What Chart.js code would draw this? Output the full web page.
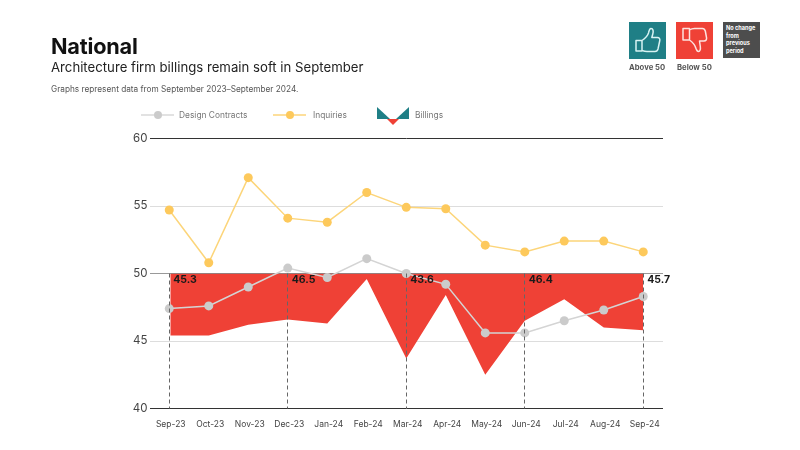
<!DOCTYPE html>
<html lang="en">
<head>
    <meta charset="UTF-8">
    <title>National - Architecture Billings</title>
    <script src="https://cdn.jsdelivr.net/npm/chart.js"></script>
    <style>
        html, body { margin: 0; padding: 0; background: #fff; overflow: hidden; }
        body { width: 800px; height: 450px; position: relative; font-family: Inter, "Liberation Sans", sans-serif; }
        canvas { position: absolute; left: 0; top: 0; }
        .txt { position: absolute; white-space: nowrap; }
        #title { left: 51px; top: 34px; font-size: 21.7px; font-weight: 700; color: #111; line-height: 25px; letter-spacing: -0.2px; }
        #subtitle { left: 51px; top: 58px; font-size: 13.2px; color: #222; line-height: 18px; }
        #note { left: 51px; top: 83px; font-size: 8.25px; color: #555; line-height: 12px; }
        .leg { top: 109px; font-size: 8.4px; color: #777; line-height: 12px; }
        .key { position: absolute; }
        .cap { top: 63px; font-size: 7.7px; font-weight: 700; color: #555; line-height: 10px; }
        #nochange { position: absolute; left: 723px; top: 22px; width: 37px; height: 36px; background: #4d4d4d; color: #fff;
                    font-size: 5.6px; font-weight: 700; line-height: 7.5px; padding: 3px 0 0 3px; box-sizing: border-box; }
    </style>
</head>
<body>
    <canvas id="chart" width="800" height="450"></canvas>

    <div class="txt" id="title">National</div>
    <div class="txt" id="subtitle">Architecture firm billings remain soft in September</div>
    <div class="txt" id="note">Graphs represent data from September 2023–September 2024.</div>

    <!-- legend -->
    <svg class="key" style="left:141px;top:109px" width="34" height="12">
        <line x1="0" y1="6" x2="33" y2="6" stroke="#d8d8d8" stroke-width="1.5"/><circle cx="17" cy="6" r="4" fill="#cbcbcb"/>
    </svg>
    <div class="txt leg" style="left:179px">Design Contracts</div>
    <svg class="key" style="left:273px;top:109px" width="34" height="12">
        <line x1="0" y1="6" x2="33" y2="6" stroke="#fcd57a" stroke-width="1.5"/><circle cx="17" cy="6" r="4" fill="#fdc95c"/>
    </svg>
    <div class="txt leg" style="left:313px">Inquiries</div>
    <svg class="key" style="left:376px;top:106px" width="34" height="20">
        <polygon points="1,1 1,13 14,13" fill="#1f7f86"/>
        <polygon points="33,1 33,13 20,13" fill="#1f7f86"/>
        <polygon points="11,13 23,13 17,19" fill="#ef4136"/>
    </svg>
    <div class="txt leg" style="left:415px">Billings</div>

    <!-- key boxes -->
    <svg class="key" style="left:629px;top:22px" width="37" height="37">
        <rect width="37" height="37" fill="#1f7f86"/>
        <path d="M7 18.500h6v10.500H7z M13 18.500c3-2 5.500-4.500 6.500-7.500.5-2 .8-4.500 2.500-4.500 2.200 0 2.600 3 1.800 5.500l-1 3.500h5.700c1.700 0 2.700 1.300 2.300 3l-1.800 8.500c-.4 1.500-1.300 2.500-3 2.500H18c-2 0-3.500-.5-5-1" fill="none" stroke="#d8f3f3" stroke-width="1.500" stroke-linejoin="round"/>
    </svg>
    <svg class="key" style="left:676px;top:22px" width="37" height="37">
        <rect width="37" height="37" fill="#ef4136"/>
        <path d="M7 6.500h6.500v11.500H7z M13.500 8c1.500-1 3-1.500 5-1.500h8c1.500 0 2.300 1 2.800 2.500l1.200 6.500c.4 2-.5 3.500-2.500 3.500h-4.500l.8 5.500c.4 2.500-.3 5-1.800 5s-2-1.500-2.500-3c-1-3.500-3-6-6.500-8.500" fill="none" stroke="#fde3df" stroke-width="1.500" stroke-linejoin="round"/>
    </svg>
    <div id="nochange">No change<br>from<br>previous<br>period</div>
    <div class="txt cap" style="left:629px">Above 50</div>
    <div class="txt cap" style="left:677px">Below 50</div>

    <script>
        const months = ['Sep-23', 'Oct-23', 'Nov-23', 'Dec-23', 'Jan-24', 'Feb-24', 'Mar-24', 'Apr-24', 'May-24', 'Jun-24', 'Jul-24', 'Aug-24', 'Sep-24'];
        const billings = [45.4, 45.4, 46.2, 46.6, 46.3, 49.6, 43.7, 48.4, 42.5, 46.5, 48.1, 46.0, 45.8];
        const designContracts = [47.4, 47.6, 49.0, 50.4, 49.7, 51.1, 50.0, 49.2, 45.6, 45.6, 46.5, 47.3, 48.3];
        const inquiries = [54.7, 50.8, 57.1, 54.1, 53.8, 56.0, 54.9, 54.8, 52.1, 51.6, 52.4, 52.4, 51.6];
        // months that get a dashed drop line and the label printed next to it
        const calloutMonths = ['Sep-23', 'Dec-23', 'Mar-24', 'Jun-24', 'Sep-24'];
        const calloutLabels = ['45.3', '46.5', '43.6', '46.4', '45.7'];

        const callouts = {
            id: 'callouts',
            afterDatasetsDraw(chart) {
                const { ctx, scales: { x, y } } = chart;
                ctx.save();
                calloutMonths.forEach((m, i) => {
                    const px = x.getPixelForValue(months.indexOf(m));
                    const lineX = Math.floor(px) + 0.5;
                    ctx.beginPath();
                    ctx.setLineDash([4, 3]);
                    ctx.strokeStyle = '#666';
                    ctx.lineWidth = 1;
                    ctx.moveTo(lineX, y.getPixelForValue(50));
                    ctx.lineTo(lineX, y.getPixelForValue(40));
                    ctx.stroke();
                    ctx.fillStyle = '#1a1a1a';
                    ctx.font = '700 10.5px Inter, "Liberation Sans", sans-serif';
                    ctx.textBaseline = 'middle';
                    ctx.fillText(calloutLabels[i], px + 4, y.getPixelForValue(50) + 6.5);
                });
                ctx.restore();
            }
        };

        new Chart(document.getElementById('chart').getContext('2d'), {
            type: 'line',
            data: {
                labels: months,
                datasets: [
                    { label: 'Billings', data: billings, borderWidth: 0, borderColor: 'rgba(0,0,0,0)', pointRadius: 0,
                      fill: { target: { value: 50 }, above: '#1f7f86', below: '#ef4136' }, tension: 0, order: 3,
                      clip: { left: -21, top: false, right: false, bottom: false } },
                    { label: 'Design Contracts', data: designContracts, borderColor: '#d4d4d4', borderWidth: 1.5, tension: 0,
                      pointRadius: 4.5, pointBackgroundColor: '#cbcbcb', pointBorderWidth: 0, fill: false, order: 1 },
                    { label: 'Inquiries', data: inquiries, borderColor: '#fcd57a', borderWidth: 1.5, tension: 0,
                      pointRadius: 4.5, pointBackgroundColor: '#fdc95c', pointBorderWidth: 0, fill: false, order: 2 }
                ]
            },
            options: {
                responsive: false,
                animation: false,
                devicePixelRatio: 1,
                layout: { padding: { left: 0, top: 138.5, right: 137, bottom: 0 } },
                plugins: { legend: { display: false }, tooltip: { enabled: false } },
                scales: {
                    x: {
                        offset: true,
                        afterFit: s => { s.height = 41.5; },
                        grid: { display: false },
                        border: { display: false },
                        ticks: { color: '#444', font: { size: 8.5, family: 'Inter, "Liberation Sans", sans-serif' }, padding: 3, labelOffset: 1.5, maxRotation: 0, autoSkip: false }
                    },
                    y: {
                        min: 40, max: 60,
                        afterFit: s => { s.width = 149.5; },
                        border: { display: false },
                        grid: {
                            drawTicks: false,
                            color: c => (c.tick.value === 40 || c.tick.value === 60) ? '#333' : (c.tick.value === 50 ? '#999' : '#ddd'),
                            lineWidth: 1
                        },
                        ticks: { stepSize: 5, color: '#444', font: { size: 11.5, family: 'Inter, "Liberation Sans", sans-serif' }, padding: 2 }
                    }
                }
            },
            plugins: [callouts]
        });
    </script>
</body>
</html>
